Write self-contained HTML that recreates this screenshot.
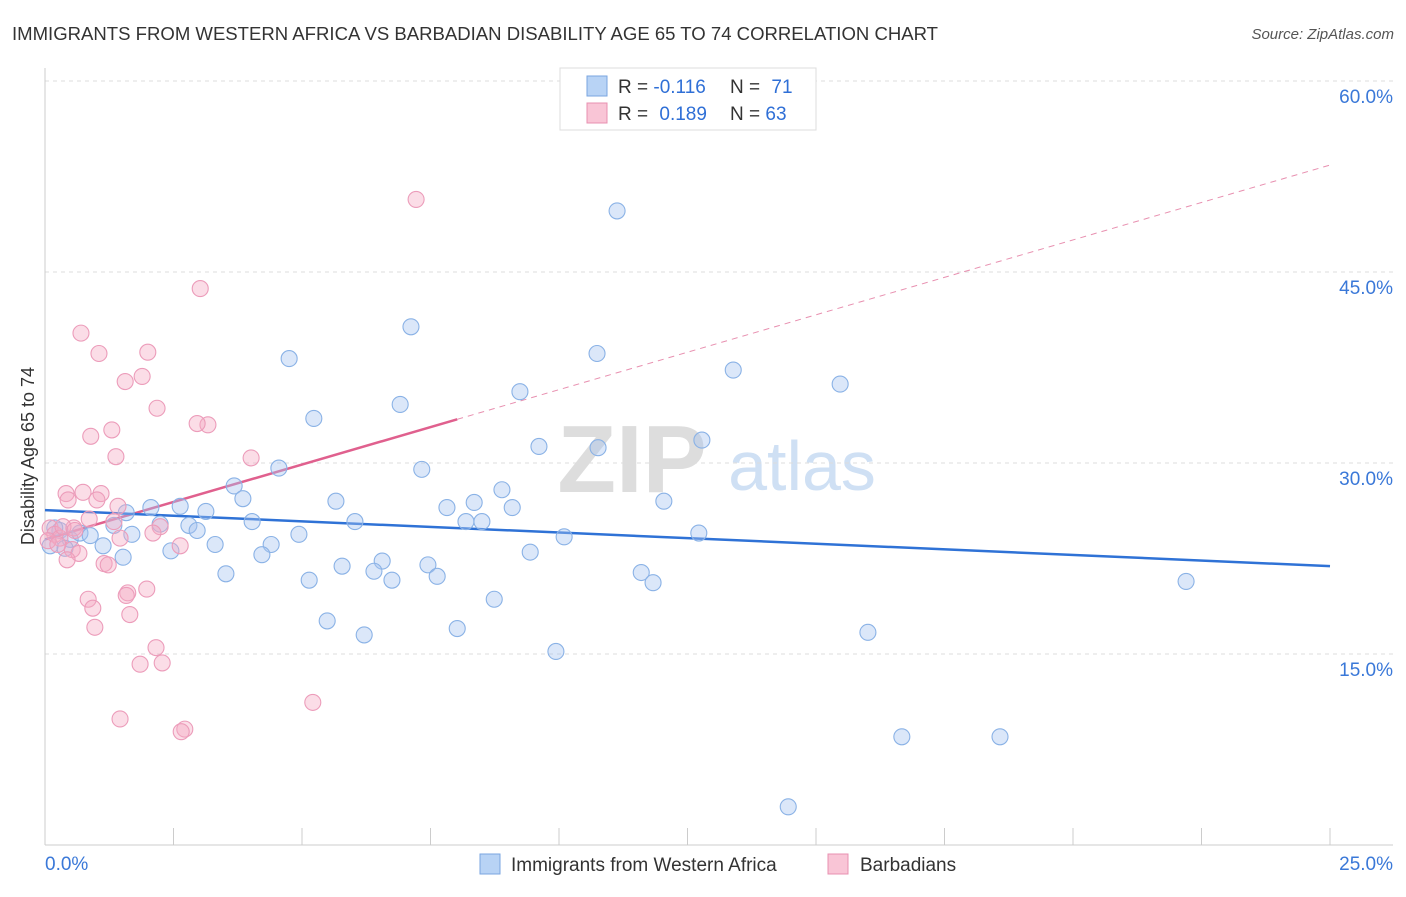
<!DOCTYPE html>
<html><head><meta charset="utf-8"><style>
body{margin:0;background:#fff;font-family:"Liberation Sans",sans-serif}
svg text{font-family:"Liberation Sans",sans-serif}
</style></head><body>
<svg id="chart" width="1406" height="892" viewBox="0 0 1406 892" xmlns="http://www.w3.org/2000/svg">
<text x="12" y="40" font-size="18.5" fill="#333" textLength="926" lengthAdjust="spacingAndGlyphs">IMMIGRANTS FROM WESTERN AFRICA VS BARBADIAN DISABILITY AGE 65 TO 74 CORRELATION CHART</text>
<text x="1394" y="39" font-size="15" fill="#555" text-anchor="end" font-style="italic">Source: ZipAtlas.com</text>
<g>
<text x="632" y="492" font-size="96" fill="#ddd" text-anchor="middle" font-family="Liberation Serif" font-weight="bold">ZIP</text>
<text x="802" y="490" font-size="70" fill="#cfe0f4" text-anchor="middle">atlas</text>
</g>
<g id="grid"></g><g id="axes"></g><g id="lines"></g><g id="points"></g>
<text x="34" y="456" font-size="18" fill="#333" text-anchor="middle" transform="rotate(-90 34 456)">Disability Age 65 to 74</text>
<g>
<rect x="560" y="68" width="256" height="62" fill="#fff" stroke="#ddd"/>
<rect x="587" y="76" width="20" height="20" fill="#b8d3f5" stroke="#7aa6e0"/>
<rect x="587" y="103" width="20" height="20" fill="#f9c5d6" stroke="#e890b0"/>
<text x="618" y="93" font-size="19" fill="#333">R = <tspan fill="#2f6fd6">-0.116</tspan></text>
<text x="730" y="93" font-size="19" fill="#333">N = <tspan fill="#2f6fd6" dx="6">71</tspan></text>
<text x="618" y="120" font-size="19" fill="#333">R = <tspan fill="#2f6fd6" dx="6">0.189</tspan></text>
<text x="730" y="120" font-size="19" fill="#333">N = <tspan fill="#2f6fd6">63</tspan></text>
</g>
<g>
<rect x="480" y="854" width="20" height="20" fill="#b8d3f5" stroke="#7aa6e0"/>
<text x="511" y="871" font-size="19" fill="#333">Immigrants from Western Africa</text>
<rect x="828" y="854" width="20" height="20" fill="#f9c5d6" stroke="#e890b0"/>
<text x="860" y="871" font-size="19" fill="#333">Barbadians</text>
</g>
</svg>
<script>
const blueX=[11.13,7.12,4.75,10.74,13.39,15.47,9.24,6.91,5.23,12.78,9.61,10.76,4.55,7.33,3.68,8.89,5.66,3.85,8.35,12.04,2.06,2.63,3.13,7.82,9.09,1.58,4.03,6.03,8.19,8.50,2.24,2.80,1.34,2.96,4.94,1.69,10.10,12.72,3.31,4.40,1.13,9.44,2.45,4.22,1.52,6.56,5.78,7.45,3.52,6.40,11.60,7.63,5.14,6.75,11.83,22.20,8.74,5.49,8.02,6.21,16.01,9.94,16.67,18.58,14.46,0.10,0.29,0.49,0.68,0.88,0.19,0.39];
const blueY=[49.8,40.7,38.2,38.6,37.3,36.2,35.6,34.6,33.5,31.8,31.3,31.2,29.6,29.5,28.2,27.9,27.0,27.2,26.9,27.0,26.5,26.6,26.2,26.5,26.5,26.1,25.4,25.4,25.4,25.4,25.2,25.1,25.1,24.7,24.4,24.4,24.2,24.5,23.6,23.6,23.5,23.0,23.1,22.8,22.6,22.3,21.9,22.0,21.3,21.5,21.4,21.1,20.8,20.8,20.6,20.7,19.3,17.6,17.0,16.5,16.7,15.2,8.5,8.5,3.0,23.5,24.7,24.0,24.5,24.3,24.9,23.3];
const pinkX=[7.22,3.02,0.70,1.05,2.00,1.89,1.56,2.18,3.17,1.30,2.96,0.89,1.38,4.01,0.41,0.74,1.09,0.45,1.01,1.42,0.86,1.34,2.24,2.10,0.56,1.46,2.63,0.53,0.66,0.43,1.15,1.23,1.61,1.58,1.98,0.84,0.93,1.65,0.97,2.16,1.85,2.28,5.21,1.46,2.72,2.65,0.10,0.19,0.29,0.06,0.35,0.25,0.58];
const pinkY=[50.7,43.7,40.2,38.6,38.7,36.8,36.4,34.3,33.0,32.6,33.1,32.1,30.5,30.4,27.6,27.7,27.6,27.1,27.1,26.6,25.6,25.4,25.0,24.5,24.9,24.1,23.5,23.2,22.9,22.4,22.1,22.0,19.8,19.6,20.1,19.3,18.6,18.1,17.1,15.5,14.2,14.3,11.2,9.9,9.1,8.9,24.9,24.4,24.1,23.9,25.0,23.6,24.7];
const yTicks=[15,30,45,60];
const yTickLabels=["15.0%","30.0%","45.0%","60.0%"];
const xTicks=[0,2.5,5,7.5,10,12.5,15,17.5,20,22.5,25];
const blueTrend=[26.3,21.9];
const pinkTrend=[24.0,53.4];
const pinkSolidEnd=8.02;
const NS="http://www.w3.org/2000/svg";
const sx=v=>45+v*51.4, sy=v=>845-v*12.733;
function mk(p,t,a){const e=document.createElementNS(NS,t);for(const k in a)e.setAttribute(k,a[k]);p.appendChild(e);return e;}
const grid=document.getElementById('grid'),axes=document.getElementById('axes'),lines=document.getElementById('lines'),pts=document.getElementById('points');
yTicks.forEach((v,i)=>{
 const l=mk(grid,'line',{x1:45,x2:1393,y1:sy(v),y2:sy(v),stroke:'#ddd','stroke-dasharray':'4 4'});
 
 
 const t=mk(axes,'text',{x:1393,y:sy(v)+22,'font-size':19,fill:'#3a78d8','text-anchor':'end'});
 t.textContent=yTickLabels[i];
 
 
});
const ax=mk(axes,'line',{x1:45,x2:1393,y1:845,y2:845,stroke:'#ccc'});


const ay=mk(axes,'line',{x1:45,x2:45,y1:68,y2:845,stroke:'#ccc'});


xTicks.forEach(v=>{const t=mk(axes,'line',{x1:sx(v),x2:sx(v),y1:828,y2:845,stroke:'#ccc'});
 
 });
const x0=mk(axes,'text',{x:45,y:870,'font-size':19,fill:'#3a78d8'});x0.textContent='0.0%';


const x1=mk(axes,'text',{x:1393,y:870,'font-size':19,fill:'#3a78d8','text-anchor':'end'});x1.textContent='25.0%';


function drawPts(X,Y,fill,stroke,name){X.forEach((x,i)=>{const c=mk(pts,'circle',{cx:sx(x),cy:sy(Y[i]),r:8,fill:fill,stroke:stroke,'stroke-width':1.1});
 
 });}
drawPts(blueX,blueY,'rgba(164,196,240,0.4)','#8ab2e6','blue-point');
drawPts(pinkX,pinkY,'rgba(244,170,195,0.4)','#ec9cba','pink-point');
const pAt=x=>pinkTrend[0]+(pinkTrend[1]-pinkTrend[0])*x/25;
const pd=mk(lines,'line',{x1:sx(pinkSolidEnd),y1:sy(pAt(pinkSolidEnd)),x2:sx(25),y2:sy(pinkTrend[1]),stroke:'#e890b0','stroke-dasharray':'6 5','stroke-width':1});


const ps=mk(lines,'line',{x1:sx(0),y1:sy(pinkTrend[0]),x2:sx(pinkSolidEnd),y2:sy(pAt(pinkSolidEnd)),stroke:'#e0608e','stroke-width':2.5});


const bl=mk(lines,'line',{x1:sx(0),y1:sy(blueTrend[0]),x2:sx(25),y2:sy(blueTrend[1]),stroke:'#2f72d6','stroke-width':2.5});


</script>
</body></html>
